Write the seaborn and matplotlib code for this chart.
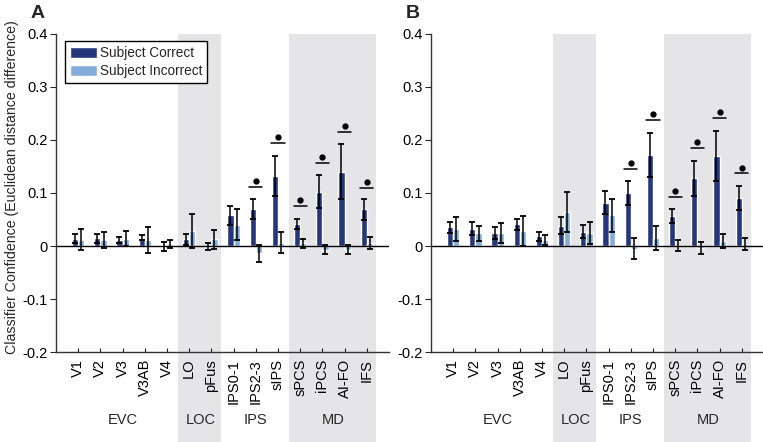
import numpy as np
import pandas as pd
import seaborn as sns
from matplotlib import pyplot
from matplotlib.patches import Patch

sns.set_style("ticks")
pyplot.rcParams['font.family'] = ['Liberation Sans', 'DejaVu Sans']

rois = ['V1', 'V2', 'V3', 'V3AB', 'V4', 'LO', 'pFus', 'IPS0-1', 'IPS2-3', 'sIPS',
        'sPCS', 'iPCS', 'AI-FO', 'IFS']
groups = ['EVC', 'LOC', 'IPS', 'MD']
group_centers = [3, 6.5, 9, 12.5]
conditions = ['Subject Correct', 'Subject Incorrect']

# panel A
a_correct = [0.014, 0.0145, 0.011, 0.016, -0.001, 0.0125, -0.001, 0.058, 0.070, 0.132,
             0.0415, 0.1025, 0.140, 0.069]
a_correct_se = [0.009, 0.0085, 0.006, 0.005, 0.008, 0.010, 0.007, 0.018, 0.019, 0.038,
                0.010, 0.031, 0.052, 0.019]
a_incorrect = [0.012, 0.012, 0.014, 0.011, 0.004, 0.028, 0.0125, 0.040, -0.014, 0.006,
               0.005, -0.007, -0.007, 0.006]
a_incorrect_se = [0.020, 0.015, 0.014, 0.025, 0.008, 0.032, 0.018, 0.029, 0.016, 0.020,
                  0.008, 0.009, 0.009, 0.011]
a_sig = [None, None, None, None, None, None, None, None, 0.112, 0.195,
         0.075, 0.157, 0.215, 0.110]

# panel B
b_correct = [0.035, 0.033, 0.025, 0.041, 0.018, 0.038, 0.027, 0.082, 0.100, 0.172,
             0.0566, 0.128, 0.170, 0.0906]
b_correct_se = [0.011, 0.0125, 0.011, 0.010, 0.008, 0.016, 0.0125, 0.0225, 0.0225, 0.041,
                0.0125, 0.033, 0.047, 0.022]
b_incorrect = [0.032, 0.024, 0.025, 0.028, 0.011, 0.0635, 0.025, 0.058, -0.005, 0.015,
               0.0005, -0.004, 0.0094, 0.004]
b_incorrect_se = [0.023, 0.014, 0.019, 0.028, 0.010, 0.038, 0.021, 0.031, 0.0195, 0.022,
                  0.010, 0.012, 0.014, 0.0115]
b_sig = [None, None, None, None, None, None, None, None, 0.146, 0.238,
         0.0925, 0.1855, 0.2415, 0.137]

colors = ['#26367d', '#84acdb']
shade = '#e5e5e8'


def draw_panel(ax, corr, corr_se, inc, inc_se, sig, letter, legend=False):
    pos = np.arange(1, len(rois) + 1)
    df = pd.DataFrame({
        'pos': np.concatenate([pos, pos]),
        'value': corr + inc,
        'cond': [conditions[0]] * len(rois) + [conditions[1]] * len(rois),
    })

    # shaded ROI groups, running down through the labels
    for lo, hi in [(5.5, 7.45), (10.5, 14.4)]:
        ax.axvspan(lo, hi, ymin=-0.3, ymax=1, color=shade, lw=0, clip_on=False, zorder=0)

    sns.barplot(data=df, x='pos', y='value', hue='cond', native_scale=True, width=0.56,
                palette=colors, saturation=1, errorbar=None, legend=False, ax=ax, zorder=2)

    ax.errorbar(pos - 0.14, corr, yerr=corr_se, fmt='none', ecolor='black',
                elinewidth=1.1, capsize=2, capthick=1.3, zorder=3)
    ax.errorbar(pos + 0.14, inc, yerr=inc_se, fmt='none', ecolor='black',
                elinewidth=1.1, capsize=2, capthick=1.3, zorder=3)

    ax.axhline(0, color='black', lw=1, zorder=2.5)

    for p, s in zip(pos, sig):
        if s is None:
            continue
        ax.plot([p - 0.3, p + 0.3], [s, s], color='black', lw=1.1, zorder=3)
        ax.plot(p, s + 0.011, 'o', color='black', ms=3.5, zorder=3)

    ax.set_xlim(0, 15)
    ax.set_ylim(-0.2, 0.4)
    ax.set_xticks(pos)
    ax.set_xticklabels(rois, rotation=90, fontsize=10.5)
    ax.set_yticks([-0.2, -0.1, 0, 0.1, 0.2, 0.3, 0.4])
    ax.set_yticklabels(['-0.2', '-0.1', '0', '0.1', '0.2', '0.3', '0.4'], fontsize=10.5)
    ax.tick_params(axis='x', direction='in', length=3, pad=5, colors='#222222', labelcolor='black')
    ax.tick_params(axis='y', direction='out', length=4, pad=2, labelcolor='black')
    ax.set_xlabel('')
    ax.set_ylabel('')
    ax.set_facecolor('none')
    sns.despine(ax=ax)
    for sp in ['left', 'bottom']:
        ax.spines[sp].set_linewidth(1)
        ax.spines[sp].set_color('#333333')

    for g, c in zip(groups, group_centers):
        ax.text(c, -0.215, g, transform=ax.get_xaxis_transform(), ha='center', va='center',
                fontsize=10.5)

    ax.text(-0.055, 1.065, letter, transform=ax.transAxes, fontsize=14, fontweight='bold',
            ha='center', va='center')

    if legend:
        handles = [Patch(facecolor=colors[0]), Patch(facecolor=colors[1])]
        leg = ax.legend(handles, conditions, loc='upper left', bbox_to_anchor=(0.02, 0.985),
                        fontsize=9.8, frameon=True, fancybox=False, handlelength=2.0,
                        handleheight=0.9, handletextpad=0.2, borderpad=0.35, labelspacing=0.3,
                        borderaxespad=0.2)
        leg.get_frame().set_edgecolor('black')
        leg.get_frame().set_linewidth(1)
        leg.get_frame().set_facecolor('white')
        leg.get_frame().set_alpha(1)


fig = pyplot.figure(figsize=(7.63, 4.42), dpi=100)
ax_a = fig.add_axes([0.0734, 0.2036, 0.4364, 0.7195])
ax_b = fig.add_axes([0.5649, 0.2036, 0.4364, 0.7195])

draw_panel(ax_a, a_correct, a_correct_se, a_incorrect, a_incorrect_se, a_sig, 'A', legend=True)
draw_panel(ax_b, b_correct, b_correct_se, b_incorrect, b_incorrect_se, b_sig, 'B')

fig.text(0.016, 0.576, 'Classifier Confidence (Euclidean distance difference)', rotation=90,
         ha='center', va='center', fontsize=10.2)

fig.savefig('out.png', dpi=100)
